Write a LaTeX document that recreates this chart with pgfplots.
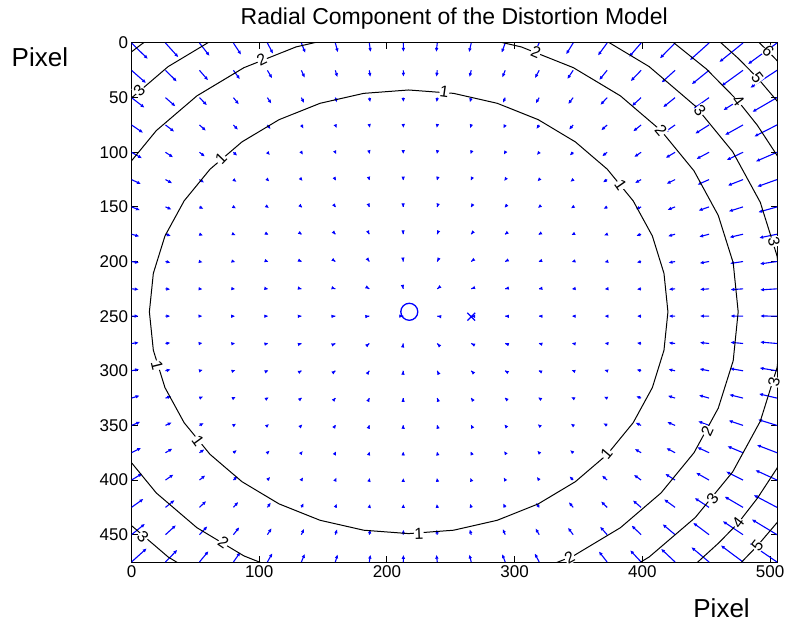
\documentclass[border=0pt]{standalone}
\usepackage{fontspec}
\setmainfont{Liberation Sans}
\usepackage{pgfplots}
\usepackage{pgfplotstable}
\pgfplotsset{compat=1.18}
\usetikzlibrary{arrows.meta}

\definecolor{qblue}{RGB}{0,0,255}

% grid points (x y) and radial displacement (u v), pixels
\pgfplotstableread{
x y u v
0 0 12.8 14.6
26.6 0 10.1 13.1
53.2 0 7.9 11.8
79.8 0 6.0 10.7
106.4 0 4.4 9.8
133 0 3.1 9.1
159.6 0 2.0 8.6
186.2 0 1.0 8.3
212.8 0 0.1 8.2
239.4 0 -0.8 8.3
266 0 -1.7 8.5
292.6 0 -2.8 9.0
319.2 0 -4.0 9.6
345.8 0 -5.5 10.4
372.4 0 -7.2 11.5
399 0 -9.4 12.7
425.6 0 -11.9 14.1
452.2 0 -15.0 15.7
478.8 0 -18.6 17.5
505.4 0 -22.8 19.4
0 25 11.4 11.7
26.6 25 8.9 10.3
53.2 25 6.8 9.2
79.8 25 5.1 8.2
106.4 25 3.7 7.4
133 25 2.6 6.8
159.6 25 1.6 6.3
186.2 25 0.8 6.1
212.8 25 0.1 5.9
239.4 25 -0.6 6.0
266 25 -1.4 6.2
292.6 25 -2.3 6.6
319.2 25 -3.3 7.2
345.8 25 -4.6 8.0
372.4 25 -6.2 8.9
399 25 -8.2 10.0
425.6 25 -10.6 11.2
452.2 25 -13.5 12.7
478.8 25 -16.9 14.3
505.4 25 -20.9 16.0
0 50 10.2 9.2
26.6 50 7.8 8.0
53.2 50 5.9 7.0
79.8 50 4.3 6.2
106.4 50 3.1 5.5
133 50 2.1 4.9
159.6 50 1.3 4.5
186.2 50 0.7 4.2
212.8 50 0.1 4.1
239.4 50 -0.5 4.2
266 50 -1.1 4.4
292.6 50 -1.8 4.8
319.2 50 -2.7 5.3
345.8 50 -3.9 5.9
372.4 50 -5.3 6.7
399 50 -7.2 7.7
425.6 50 -9.4 8.8
452.2 50 -12.1 10.1
478.8 50 -15.4 11.5
505.4 50 -19.3 13.1
0 75 9.1 7.2
26.6 75 6.9 6.2
53.2 75 5.1 5.3
79.8 75 3.6 4.5
106.4 75 2.5 3.9
133 75 1.7 3.4
159.6 75 1.0 3.1
186.2 75 0.5 2.8
212.8 75 0.07 2.8
239.4 75 -0.4 2.8
266 75 -0.9 3.0
292.6 75 -1.5 3.3
319.2 75 -2.2 3.7
345.8 75 -3.2 4.3
372.4 75 -4.6 5.0
399 75 -6.2 5.9
425.6 75 -8.3 6.8
452.2 75 -10.9 8.0
478.8 75 -14.1 9.2
505.4 75 -17.8 10.6
0 100 8.2 5.5
26.6 100 6.0 4.6
53.2 100 4.3 3.9
79.8 100 3.0 3.2
106.4 100 2.0 2.7
133 100 1.3 2.3
159.6 100 0.8 2.0
186.2 100 0.4 1.8
212.8 100 0.05 1.7
239.4 100 -0.3 1.8
266 100 -0.6 1.9
292.6 100 -1.1 2.2
319.2 100 -1.8 2.6
345.8 100 -2.7 3.0
372.4 100 -3.9 3.7
399 100 -5.4 4.4
425.6 100 -7.4 5.2
452.2 100 -9.9 6.2
478.8 100 -12.9 7.2
505.4 100 -16.6 8.4
0 125 7.4 4.1
26.6 125 5.3 3.4
53.2 125 3.7 2.8
79.8 125 2.5 2.2
106.4 125 1.6 1.8
133 125 1.0 1.4
159.6 125 0.57 1.2
186.2 125 0.26 1.0
212.8 125 0.03 0.98
239.4 125 -0.19 1.0
266 125 -0.46 1.1
292.6 125 -0.85 1.4
319.2 125 -1.4 1.7
345.8 125 -2.2 2.1
372.4 125 -3.3 2.6
399 125 -4.8 3.2
425.6 125 -6.7 3.9
452.2 125 -9.1 4.7
478.8 125 -12.0 5.5
505.4 125 -15.5 6.5
0 150 6.7 3.0
26.6 150 4.8 2.4
53.2 150 3.2 1.9
79.8 150 2.1 1.5
106.4 150 1.3 1.1
133 150 0.75 0.86
159.6 150 0.39 0.66
186.2 150 0.17 0.54
212.8 150 0.02 0.49
239.4 150 -0.12 0.51
266 150 -0.31 0.61
292.6 150 -0.62 0.79
319.2 150 -1.1 1.0
345.8 150 -1.8 1.4
372.4 150 -2.9 1.8
399 150 -4.2 2.2
425.6 150 -6.0 2.8
452.2 150 -8.3 3.4
478.8 150 -11.2 4.1
505.4 150 -14.7 4.9
0 175 6.2 2.0
26.6 175 4.3 1.6
53.2 175 2.9 1.2
79.8 175 1.8 0.93
106.4 175 1.05 0.67
133 175 0.56 0.47
159.6 175 0.26 0.33
186.2 175 0.10 0.23
212.8 175 0.012 0.20
239.4 175 -0.07 0.22
266 175 -0.20 0.29
292.6 175 -0.45 0.42
319.2 175 -0.87 0.60
345.8 175 -1.5 0.84
372.4 175 -2.5 1.1
399 175 -3.8 1.5
425.6 175 -5.6 1.9
452.2 175 -7.8 2.4
478.8 175 -10.6 2.9
505.4 175 -14.0 3.4
0 200 5.9 1.2
26.6 200 4.0 0.97
53.2 200 2.6 0.73
79.8 200 1.6 0.53
106.4 200 0.87 0.36
133 200 0.42 0.23
159.6 200 0.17 0.14
186.2 200 0.05 0.08
212.8 200 0.005 0.05
239.4 200 -0.03 0.07
266 200 -0.12 0.11
292.6 200 -0.33 0.20
319.2 200 -0.71 0.32
345.8 200 -1.3 0.47
372.4 200 -2.2 0.66
399 200 -3.5 0.89
425.6 200 -5.2 1.2
452.2 200 -7.4 1.5
478.8 200 -10.2 1.8
505.4 200 -13.5 2.2
0 225 5.7 0.55
26.6 225 3.8 0.42
53.2 225 2.5 0.32
79.8 225 1.5 0.22
106.4 225 0.77 0.15
133 225 0.35 0.087
159.6 225 0.12 0.043
186.2 225 0.023 0.016
212.8 225 0.001 0.005
239.4 225 -0.012 0.011
266 225 -0.076 0.033
292.6 225 -0.26 0.071
319.2 225 -0.61 0.13
345.8 225 -1.2 0.20
372.4 225 -2.1 0.28
399 225 -3.4 0.39
425.6 225 -5.0 0.51
452.2 225 -7.2 0.64
478.8 225 -9.9 0.80
505.4 225 -13.3 0.97
0 250 5.6 -0.10
26.6 250 3.8 -0.080
53.2 250 2.4 -0.059
79.8 250 1.4 -0.041
106.4 250 0.75 -0.027
133 250 0.33 -0.016
159.6 250 0.10 -0.007
186.2 250 0.016 -0.002
212.8 250 0.001 -0.0001
239.4 250 -0.0065 -0.001
266 250 -0.065 -0.005
292.6 250 -0.24 -0.013
319.2 250 -0.59 -0.023
345.8 250 -1.2 -0.037
372.4 250 -2.1 -0.053
399 250 -3.3 -0.073
425.6 250 -5.0 -0.096
452.2 250 -7.2 -0.12
478.8 250 -9.9 -0.15
505.4 250 -13.2 -0.18
0 275 5.7 -0.76
26.6 275 3.9 -0.59
53.2 275 2.5 -0.44
79.8 275 1.5 -0.31
106.4 275 0.80 -0.21
133 275 0.36 -0.13
159.6 275 0.13 -0.066
186.2 275 0.030 -0.028
212.8 275 0.002 -0.014
239.4 275 -0.017 -0.021
266 275 -0.087 -0.052
292.6 275 -0.27 -0.10
319.2 275 -0.63 -0.18
345.8 275 -1.2 -0.28
372.4 275 -2.1 -0.40
399 275 -3.4 -0.54
425.6 275 -5.1 -0.71
452.2 275 -7.3 -0.90
478.8 275 -10.0 -1.1
505.4 275 -13.3 -1.3
0 300 6.0 -1.5
26.6 300 4.1 -1.2
53.2 300 2.7 -0.88
79.8 300 1.6 -0.65
106.4 300 0.92 -0.45
133 300 0.46 -0.30
159.6 300 0.20 -0.18
186.2 300 0.065 -0.11
212.8 300 0.007 -0.087
239.4 300 -0.042 -0.10
266 300 -0.14 -0.16
292.6 300 -0.36 -0.26
319.2 300 -0.75 -0.40
345.8 300 -1.4 -0.58
372.4 300 -2.3 -0.80
399 300 -3.6 -1.1
425.6 300 -5.3 -1.4
452.2 300 -7.5 -1.7
478.8 300 -10.3 -2.1
505.4 300 -13.7 -2.6
0 325 6.4 -2.3
26.6 325 4.5 -1.8
53.2 325 3.0 -1.4
79.8 325 1.9 -1.1
106.4 325 1.1 -0.80
133 325 0.61 -0.58
159.6 325 0.30 -0.41
186.2 325 0.12 -0.31
212.8 325 0.014 -0.27
239.4 325 -0.083 -0.29
266 325 -0.23 -0.38
292.6 325 -0.50 -0.52
319.2 325 -0.94 -0.73
345.8 325 -1.6 -0.99
372.4 325 -2.6 -1.3
399 325 -3.9 -1.7
425.6 325 -5.7 -2.2
452.2 325 -8.0 -2.7
478.8 325 -10.8 -3.2
505.4 325 -14.2 -3.9
0 350 6.9 -3.3
26.6 350 4.9 -2.7
53.2 350 3.4 -2.2
79.8 350 2.2 -1.7
106.4 350 1.4 -1.3
133 350 0.83 -1.0
159.6 350 0.45 -0.81
186.2 350 0.20 -0.67
212.8 350 0.025 -0.62
239.4 350 -0.14 -0.65
266 350 -0.36 -0.76
292.6 350 -0.69 -0.95
319.2 350 -1.2 -1.2
345.8 350 -1.9 -1.6
372.4 350 -3.0 -2.0
399 350 -4.4 -2.5
425.6 350 -6.2 -3.1
452.2 350 -8.6 -3.8
478.8 350 -11.4 -4.5
505.4 350 -14.9 -5.4
0 375 7.6 -4.5
26.6 375 5.5 -3.8
53.2 375 3.9 -3.1
79.8 375 2.7 -2.5
106.4 375 1.8 -2.0
133 375 1.1 -1.7
159.6 375 0.63 -1.4
186.2 375 0.30 -1.2
212.8 375 0.038 -1.2
239.4 375 -0.21 -1.2
266 375 -0.51 -1.4
292.6 375 -0.93 -1.6
319.2 375 -1.5 -1.9
345.8 375 -2.4 -2.4
372.4 375 -3.5 -2.9
399 375 -5.0 -3.5
425.6 375 -6.9 -4.3
452.2 375 -9.3 -5.1
478.8 375 -12.3 -6.0
505.4 375 -15.8 -7.1
0 400 8.5 -6.0
26.6 400 6.3 -5.1
53.2 400 4.6 -4.3
79.8 400 3.2 -3.6
106.4 400 2.2 -3.0
133 400 1.4 -2.6
159.6 400 0.85 -2.3
186.2 400 0.42 -2.1
212.8 400 0.055 -2.0
239.4 400 -0.30 -2.1
266 400 -0.70 -2.2
292.6 400 -1.2 -2.5
319.2 400 -1.9 -2.9
345.8 400 -2.9 -3.4
372.4 400 -4.1 -4.1
399 400 -5.7 -4.8
425.6 400 -7.7 -5.7
452.2 400 -10.2 -6.7
478.8 400 -13.3 -7.8
505.4 400 -17.0 -9.1
0 425 9.4 -7.8
26.6 425 7.2 -6.7
53.2 425 5.3 -5.8
79.8 425 3.8 -5.0
106.4 425 2.7 -4.4
133 425 1.8 -3.9
159.6 425 1.1 -3.5
186.2 425 0.56 -3.2
212.8 425 0.074 -3.2
239.4 425 -0.40 -3.2
266 425 -0.93 -3.4
292.6 425 -1.6 -3.7
319.2 425 -2.4 -4.2
345.8 425 -3.4 -4.8
372.4 425 -4.8 -5.5
399 425 -6.5 -6.4
425.6 425 -8.7 -7.4
452.2 425 -11.3 -8.6
478.8 425 -14.5 -9.9
505.4 425 -18.3 -11.3
0 450 10.6 -10.0
26.6 450 8.2 -8.7
53.2 450 6.2 -7.7
79.8 450 4.6 -6.8
106.4 450 3.3 -6.0
133 450 2.2 -5.5
159.6 450 1.4 -5.0
186.2 450 0.72 -4.8
212.8 450 0.096 -4.7
239.4 450 -0.52 -4.7
266 450 -1.2 -4.9
292.6 450 -2.0 -5.3
319.2 450 -2.9 -5.8
345.8 450 -4.1 -6.5
372.4 450 -5.6 -7.4
399 450 -7.5 -8.4
425.6 450 -9.8 -9.6
452.2 450 -12.5 -10.9
478.8 450 -15.9 -12.4
505.4 450 -19.8 -14.0
0 475 11.9 -12.5
26.6 475 9.3 -11.2
53.2 475 7.1 -10.0
79.8 475 5.4 -9.0
106.4 475 3.9 -8.1
133 475 2.7 -7.5
159.6 475 1.8 -7.0
186.2 475 0.90 -6.7
212.8 475 0.12 -6.6
239.4 475 -0.65 -6.7
266 475 -1.5 -6.9
292.6 475 -2.4 -7.3
319.2 475 -3.5 -7.9
345.8 475 -4.9 -8.7
372.4 475 -6.5 -9.7
399 475 -8.6 -10.8
425.6 475 -11.0 -12.1
452.2 475 -13.9 -13.6
478.8 475 -17.4 -15.2
505.4 475 -21.5 -17.1
}\arrowdata

\tikzset{lbl/.style={font=\fontsize{16}{16}\selectfont,fill=white,inner sep=0.4pt}}

\begin{document}
\begin{tikzpicture}
\useasboundingbox (-131.5pt,-66pt) rectangle (654.5pt,562pt);
\begin{axis}[
  scale only axis, width=645.5pt, height=519pt,
  xmin=0, xmax=505.4, ymin=0, ymax=475, y dir=reverse,
  xtick={0,100,200,300,400,500}, ytick={0,50,100,150,200,250,300,350,400,450},
  tick align=inside, major tick length=6pt,
  axis line style={line width=1pt},
  tick style={line width=1pt,black},
  ticklabel style={font=\fontsize{17}{17}\selectfont},
  /pgf/number format/assume math mode=true,
  clip mode=individual,
]
% quiver field
\addplot[qblue, line width=1.1pt, -{Latex[length=4pt,width=3.6pt]},
  quiver={u=\thisrow{u},v=\thisrow{v}}] table[x=x,y=y] {\arrowdata};

% contour levels 1..6
\addplot[black, line width=1pt] coordinates {
(420,246) (416.9,281.2) (407.8,315.4) (392.8,347.5) (372.5,376.5) (347.5,401.5)
(318.5,421.8) (286.4,436.8) (252.2,445.9) (217,449) (181.8,445.9) (147.6,436.8)
(115.5,421.8) (86.5,401.5) (61.5,376.5) (41.2,347.5) (26.2,315.4) (17.1,281.2)
(14,246) (17.1,210.8) (26.2,176.6) (41.2,144.5) (61.5,115.5) (86.5,90.5)
(115.5,70.2) (147.6,55.2) (181.8,46.1) (217,43) (252.2,46.1) (286.4,55.2)
(318.5,70.2) (347.5,90.5) (372.5,115.5) (392.8,144.5) (407.8,176.6) (416.9,210.8)
(420,246)};
\addplot[black, line width=1pt] coordinates {
(475,246) (471.1,290.8) (459.4,334.2) (440.4,375) (414.6,411.8) (382.8,443.6)
(346,469.4) (305.2,488.4) (261.8,500.1) (217,504) (172.2,500.1) (128.8,488.4)
(88,469.4) (51.2,443.6) (19.4,411.8) (-6.4,375) (-25.4,334.2) (-37.1,290.8)
(-41,246) (-37.1,201.2) (-25.4,157.8) (-6.4,117) (19.4,80.2) (51.2,48.4)
(88,22.6) (128.8,3.6) (172.2,-8.1) (217,-12) (261.8,-8.1) (305.2,3.6)
(346,22.6) (382.8,48.4) (414.6,80.2) (440.4,117) (459.4,157.8) (471.1,201.2)
(475,246)};
\addplot[black, line width=1pt] coordinates {
(510,246) (505.5,296.9) (492.3,346.2) (470.7,392.5) (441.4,434.3) (405.3,470.4)
(363.5,499.7) (317.2,521.3) (267.9,534.5) (217,539) (166.1,534.5) (116.8,521.3)
(70.5,499.7) (28.7,470.4) (-7.4,434.3) (-36.7,392.5) (-58.3,346.2) (-71.5,296.9)
(-76,246) (-71.5,195.1) (-58.3,145.8) (-36.7,99.5) (-7.4,57.7) (28.7,21.6)
(70.5,-7.7) (116.8,-29.3) (166.1,-42.5) (217,-47) (267.9,-42.5) (317.2,-29.3)
(363.5,-7.7) (405.3,21.6) (441.4,57.7) (470.7,99.5) (492.3,145.8) (505.5,195.1)
(510,246)};
\addplot[black, line width=1pt] coordinates {
(-10,17.6) (0,8.1) (4.5,4.1) (9.2,0) (21.7,-10)};
\addplot[black, line width=1pt] coordinates {
(405.6,-15) (424.8,0) (450,23.7) (475,53.3) (490,75.3) (505.4,102.8) (515,124)};
\addplot[black, line width=1pt] coordinates {
(515,368) (505.4,389.2) (490,416.7) (475,439.3) (460,457.3) (443.4,475) (427.1,490)};
\addplot[black, line width=1pt] coordinates {
(445.7,-15) (461.7,0) (475,14) (490,31.8) (505.4,53) (515,68.2)};
\addplot[black, line width=1pt] coordinates {
(515,423.8) (505.4,439) (490,460.2) (477.7,475) (463.7,490)};
\addplot[black, line width=1pt] coordinates {
(477.6,-15) (491.8,0) (498.5,7.7) (505.4,16.1) (515,28.7)};

% principal point and image centre
\addplot[only marks, qblue, mark=o, mark size=8.5pt, line width=1.3pt] coordinates {(217.5,246)};
\addplot[only marks, qblue, mark=x, mark size=5.5pt, line width=1.2pt] coordinates {(266,250.5)};

% contour labels
\node[lbl,rotate=-8] at (axis cs:245,45) {1};
\node[lbl,rotate=46] at (axis cs:70,106) {1};
\node[lbl,rotate=-76] at (axis cs:20,295) {1};
\node[lbl,rotate=-54] at (axis cs:52,364) {1};
\node[lbl,rotate=2] at (axis cs:225,449) {1};
\node[lbl,rotate=-55] at (axis cs:383,130) {1};
\node[lbl,rotate=50] at (axis cs:372,376) {1};
\node[lbl,rotate=26] at (axis cs:102,15) {2};
\node[lbl,rotate=-23] at (axis cs:316.6,8) {2};
\node[lbl,rotate=-34] at (axis cs:72,457) {2};
\node[lbl,rotate=29] at (axis cs:343,471) {2};
\node[lbl,rotate=-50] at (axis cs:414.6,80) {2};
\node[lbl,rotate=65] at (axis cs:450.8,355) {2};
\node[lbl,rotate=46] at (axis cs:6,43) {3};
\node[lbl,rotate=-45] at (axis cs:9,452) {3};
\node[lbl,rotate=-51] at (axis cs:445,62) {3};
\node[lbl,rotate=54] at (axis cs:455,417) {3};
\node[lbl,rotate=77] at (axis cs:503,310) {3};
\node[lbl,rotate=-77] at (axis cs:503,182) {3};
\node[lbl,rotate=-53] at (axis cs:475,53.3) {4};
\node[lbl,rotate=53] at (axis cs:475,439.3) {4};
\node[lbl,rotate=-52] at (axis cs:490,31.8) {5};
\node[lbl,rotate=52] at (axis cs:490,460.2) {5};
\node[lbl,rotate=-47] at (axis cs:498.5,7.7) {6};

% title and axis words
\node[font=\fontsize{23}{23}\selectfont, anchor=base] at (axis description cs:0.5,1.035)
  {Radial Component of the Distortion Model};
\node[font=\fontsize{26}{26}\selectfont, anchor=west] at (axis description cs:-0.191,0.973) {Pixel};
\node[font=\fontsize{26}{26}\selectfont, anchor=west] at (axis description cs:0.865,-0.0886) {Pixel};
\end{axis}
\end{tikzpicture}
\end{document}
